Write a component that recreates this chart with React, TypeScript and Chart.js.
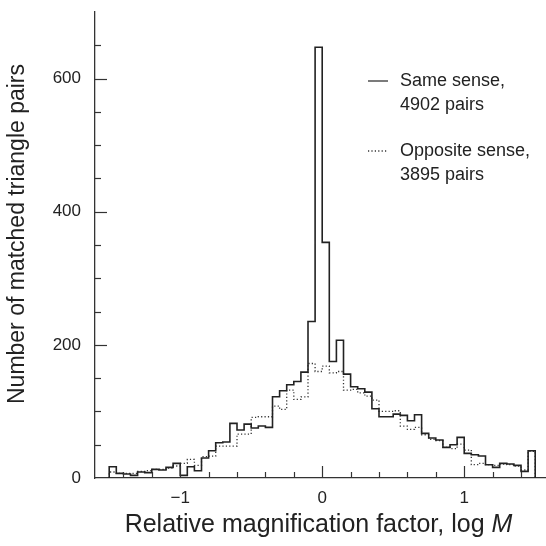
import { useEffect, useRef } from "react";
import { Chart, registerables } from "chart.js";
Chart.register(...registerables);

const binStart = -1.5;
const binWidth = 0.05;

const sameSense = [
  17, 7, 6, 4, 9, 8, 13, 12, 16, 22,
  4, 17, 11, 30, 41, 53, 54, 82, 72, 81,
  75, 78, 76, 122, 131, 140, 145, 159, 235, 647,
  354, 175, 207, 156, 137, 134, 129, 104, 92, 92,
  96, 94, 86, 95, 67, 60, 57, 46, 50, 61,
  37, 35, 33, 20, 16, 22, 21, 19, 10, 41,
];

const oppositeSense = [
  9, 7, 7, 7, 10, 11, 13, 13, 15, 18,
  22, 28, 19, 32, 33, 48, 48, 48, 66, 66,
  91, 92, 92, 108, 103, 132, 118, 122, 172, 160,
  168, 158, 160, 132, 133, 128, 123, 117, 100, 100,
  101, 78, 73, 76, 65, 58, 56, 46, 44, 51,
  42, 20, 22, 20, 19, 21, 20, 18, 12, 40,
];

const xMajorTicks = [-1, 0, 1];
const yMajorTicks = [0, 200, 400, 600];
const sameLabel = ["Same sense,", "4902 pairs"];
const oppositeLabel = ["Opposite sense,", "3895 pairs"];
const xTitleMain = "Relative magnification factor, log ";
const xTitleItalic = "M";
const yTitle = "Number of matched triangle pairs";

const FONT = "'Liberation Sans', Arial, Helvetica, sans-serif";
const INK = "#222";

function stepPoints(values: number[]) {
  const pts: { x: number; y: number }[] = [{ x: binStart, y: 0 }];
  values.forEach((v, i) => pts.push({ x: binStart + i * binWidth, y: v }));
  const end = binStart + values.length * binWidth;
  pts.push({ x: end, y: values[values.length - 1] });
  pts.push({ x: end, y: 0 });
  return pts;
}

const near = (a: number, b: number) => Math.abs(a - b) < 1e-6;

const overlay = {
  id: "overlay",
  afterDraw(chart: any) {
    const { ctx, scales } = chart;
    const x = scales.x;
    const y = scales.y;
    const axisY = y.getPixelForValue(0);
    const axisX = x.getPixelForValue(x.min);
    ctx.save();
    ctx.strokeStyle = "#333";
    ctx.lineWidth = 1.2;
    for (let k = -8; k <= 8; k++) {
      const v = k * 0.2;
      if (v <= x.min + 1e-6 || v >= x.max - 1e-6) continue;
      const px = Math.round(x.getPixelForValue(v)) + 0.5;
      const major = xMajorTicks.some((m) => near(m, v));
      ctx.beginPath();
      ctx.moveTo(px, axisY);
      ctx.lineTo(px, axisY - (major ? 12 : 6));
      ctx.stroke();
    }
    for (let v = 50; v < y.max; v += 50) {
      const py = Math.round(y.getPixelForValue(v)) + 0.5;
      const major = yMajorTicks.some((m) => near(m, v));
      ctx.beginPath();
      ctx.moveTo(axisX, py);
      ctx.lineTo(axisX + (major ? 12 : 6), py);
      ctx.stroke();
    }
    const lx0 = 368, lx1 = 388, tx = 400;
    const rows = [
      { label: sameLabel, yTop: 81, dash: [] as number[] },
      { label: oppositeLabel, yTop: 151, dash: [1.2, 2.2] },
    ];
    ctx.font = `18px ${FONT}`;
    ctx.fillStyle = INK;
    ctx.textBaseline = "middle";
    ctx.textAlign = "left";
    rows.forEach((r) => {
      ctx.setLineDash(r.dash);
      ctx.lineWidth = 1.3;
      ctx.beginPath();
      ctx.moveTo(lx0, r.yTop);
      ctx.lineTo(lx1, r.yTop);
      ctx.stroke();
      ctx.setLineDash([]);
      r.label.forEach((t, i) => ctx.fillText(t, tx, r.yTop + i * 24));
    });
    const tsize = 25;
    ctx.font = `${tsize}px ${FONT}`;
    const w1 = ctx.measureText(xTitleMain).width;
    ctx.font = `italic ${tsize}px ${FONT}`;
    const w2 = ctx.measureText(xTitleItalic).width;
    const cx = 318.5;
    const startX = cx - (w1 + w2) / 2;
    ctx.textBaseline = "middle";
    ctx.font = `${tsize}px ${FONT}`;
    ctx.fillText(xTitleMain, startX, 525);
    ctx.font = `italic ${tsize}px ${FONT}`;
    ctx.fillText(xTitleItalic, startX + w1, 525);
    ctx.save();
    ctx.translate(18, 234);
    ctx.rotate(-Math.PI / 2);
    ctx.textAlign = "center";
    ctx.font = `23px ${FONT}`;
    ctx.fillText(yTitle, 0, 0);
    ctx.restore();
    ctx.restore();
  },
};

export default function App() {
  const ref = useRef<HTMLCanvasElement>(null);
  useEffect(() => {
    if (!ref.current) return;
    const chart = new Chart(ref.current, {
      type: "line",
      data: {
        datasets: [
          {
            label: sameLabel.join(" "),
            data: stepPoints(sameSense),
            stepped: "before",
            borderColor: INK,
            borderWidth: 1.6,
            pointRadius: 0,
            fill: false,
          },
          {
            label: oppositeLabel.join(" "),
            data: stepPoints(oppositeSense),
            stepped: "before",
            borderColor: "#333",
            borderWidth: 1.3,
            borderDash: [1.2, 2.2],
            pointRadius: 0,
            fill: false,
          },
        ],
      },
      options: {
        animation: false,
        responsive: false,
        events: [],
        layout: { padding: { top: 12, right: 0, bottom: 0, left: 0 } },
        plugins: { legend: { display: false }, tooltip: { enabled: false } },
        scales: {
          x: {
            type: "linear",
            min: -1.6,
            max: 1.576,
            grid: { display: false, drawTicks: false },
            border: { display: true, color: "#333", width: 1.3 },
            ticks: {
              stepSize: 0.2,
              autoSkip: false,
              maxRotation: 0,
              padding: 10,
              color: INK,
              font: { family: FONT, size: 17 },
              callback: (v: any) => {
                const n = Number(v);
                const m = xMajorTicks.find((t) => near(t, n));
                if (m === undefined) return "";
                return m < 0 ? "\u2212" + Math.abs(m) : String(m);
              },
            },
            afterFit: (s: any) => {
              s.height = 68;
              s.paddingLeft = 0;
              s.paddingRight = 0;
            },
          },
          y: {
            type: "linear",
            min: 0,
            max: 700,
            grid: { display: false, drawTicks: false },
            border: { display: true, color: "#333", width: 1.3 },
            ticks: {
              stepSize: 50,
              autoSkip: false,
              padding: 14,
              color: INK,
              font: { family: FONT, size: 17 },
              callback: (v: any) => {
                const n = Number(v);
                const m = yMajorTicks.find((t) => near(t, n));
                return m === undefined ? "" : String(m);
              },
            },
            afterFit: (s: any) => {
              s.width = 95;
              s.paddingTop = 0;
              s.paddingBottom = 0;
            },
          },
        },
      },
      plugins: [overlay],
    });
    return () => chart.destroy();
  }, []);
  return (
    <div style={{ position: "fixed", left: 0, top: 0, width: 546, height: 546, background: "#fff" }}>
      <canvas ref={ref} width={546} height={546} style={{ display: "block", width: 546, height: 546 }} />
    </div>
  );
}
